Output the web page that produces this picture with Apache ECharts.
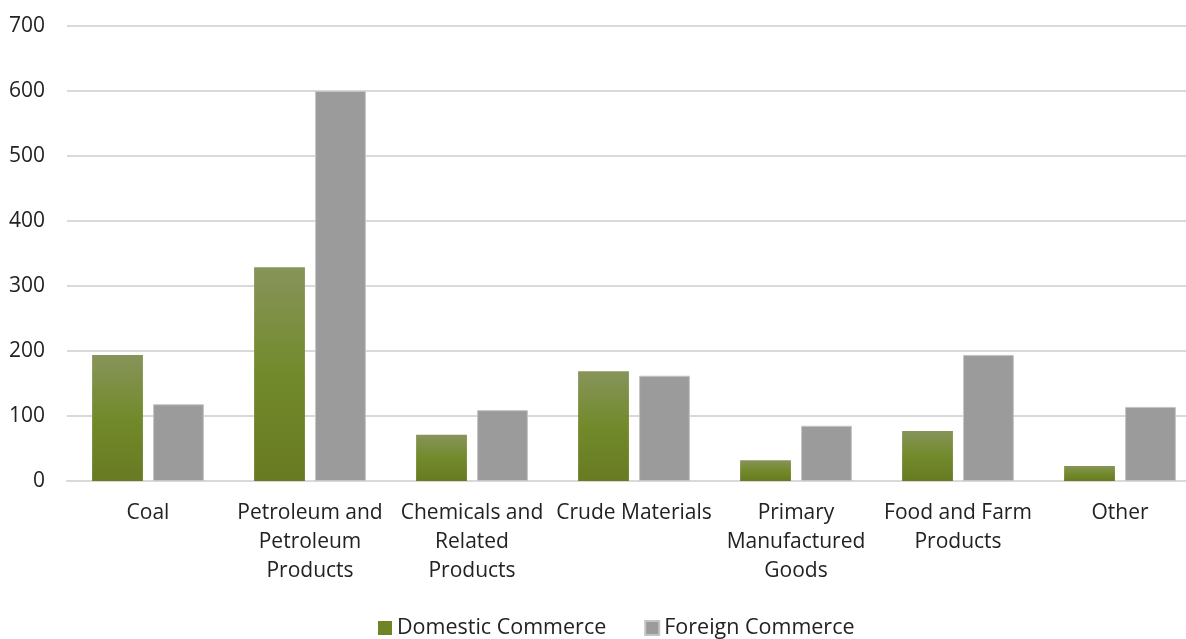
<!DOCTYPE html>
<html><head><meta charset="utf-8">
<script src="https://cdn.jsdelivr.net/npm/echarts@6/dist/echarts.min.js"></script>
<style>html,body{margin:0;padding:0;background:#fff}#c{width:1186px;height:639px}</style>
</head><body><div id="c"></div>
<script>
const categories = ["Coal", "Petroleum and\nPetroleum\nProducts", "Chemicals and\nRelated\nProducts", "Crude Materials", "Primary\nManufactured\nGoods", "Food and Farm\nProducts", "Other"];
const domestic = [194, 329, 71, 169, 32, 77, 23];
const foreign = [118, 600, 109, 162, 85, 194, 114];
const yTicks = [0, 100, 200, 300, 400, 500, 600, 700];

const font = "'Open Sans', 'Noto Sans', sans-serif";
const chart = echarts.init(document.getElementById('c'));
chart.setOption({
  animation: false,
  textStyle: {fontFamily: font},
  grid: {left: 67, width: 1134, top: 26, height: 455, outerBoundsMode: 'none', containLabel: false},
  legend: {
    top: 612, left: 373, itemWidth: 14, itemHeight: 14, itemGap: 38,
    icon: 'rect',
    textStyle: {fontSize: 21.5, color: '#222', fontFamily: font},
    data: [{name: 'Domestic Commerce', itemStyle: {color: '#6f8427'}}, {name: 'Foreign Commerce', itemStyle: {color: '#9b9b9b'}}]
  },
  xAxis: {
    type: 'category', data: categories,
    axisLine: {lineStyle: {color: '#d9d9d9', width: 2}},
    axisTick: {show: false},
    axisLabel: {fontSize: 21, color: '#222', lineHeight: 29, margin: 18, interval: 0, fontFamily: font}
  },
  yAxis: {
    type: 'value', min: 0, max: 700, interval: 100,
    axisLine: {show: false}, axisTick: {show: false},
    axisLabel: {fontSize: 21, color: '#222', margin: 22, fontFamily: font,
      formatter: v => yTicks.includes(v) ? String(v) : ''},
    splitLine: {lineStyle: {color: '#d9d9d9', width: 2}}
  },
  series: [
    {name: 'Domestic Commerce', type: 'bar', data: domestic, barGap: '20%', barCategoryGap: '31%',
      itemStyle: {color: new echarts.graphic.LinearGradient(0, 0, 0, 1, [{offset: 0, color: '#87945a'}, {offset: 0.5, color: '#728a2b'}, {offset: 1, color: '#687a22'}])}},
    {name: 'Foreign Commerce', type: 'bar', data: foreign,
      itemStyle: {color: '#9b9b9b', borderColor: '#c4c4c4', borderWidth: 1}}
  ]
});
</script></body></html>
